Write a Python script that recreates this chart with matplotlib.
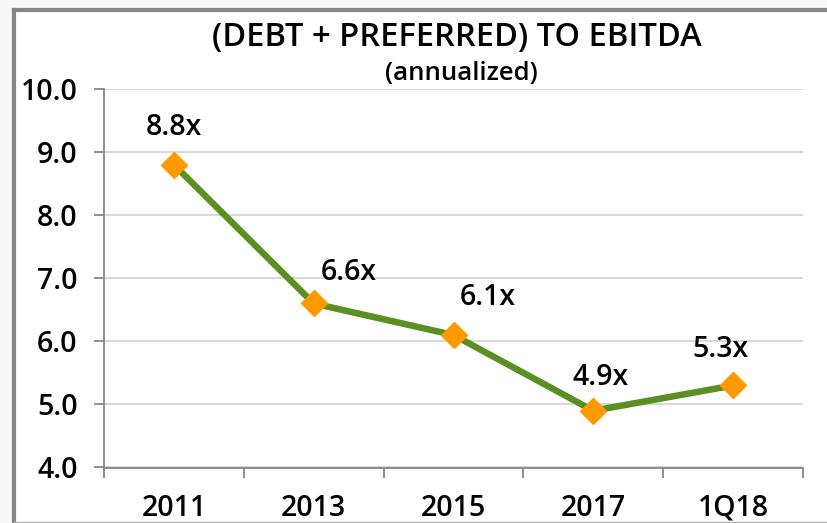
import matplotlib
matplotlib.use('Agg')
import matplotlib.pyplot as plt
from matplotlib.patches import Rectangle
from matplotlib.lines import Line2D

# chart data
periods = ['2011', '2013', '2015', '2017', '1Q18']
leverage = [8.8, 6.6, 6.1, 4.9, 5.3]
value_labels = ['8.8x', '6.6x', '6.1x', '4.9x', '5.3x']
y_ticks = [4.0, 5.0, 6.0, 7.0, 8.0, 9.0, 10.0]

# label offsets (points) relative to each marker
label_dx = [0, 25, 25, 5, -9]
label_dy = [27, 22, 27, 24, 26]

W, H = 827, 523
plt.rcParams['font.family'] = ['Open Sans', 'DejaVu Sans']
fig = plt.figure(figsize=(W / 100, H / 100), dpi=100)
fig.patch.set_facecolor('#f7f7f7')

# white panel with gray frame
fig.add_artist(Rectangle((14 / W, 0), 1, (H - 10) / H, transform=fig.transFigure,
                         facecolor='white', edgecolor='none', zorder=0))
fig.add_artist(Line2D([14 / W, 14 / W], [0, (H - 10) / H], transform=fig.transFigure,
                      color='#858585', lw=3))
fig.add_artist(Line2D([14 / W, 1], [(H - 10) / H, (H - 10) / H], transform=fig.transFigure,
                      color='#858585', lw=3))
fig.add_artist(Line2D([14 / W, 1], [1.5 / H, 1.5 / H], transform=fig.transFigure,
                      color='#b5b5b5', lw=1))

ax = fig.add_axes([104 / W, (H - 467.5) / H, 699 / W, 378.5 / H])
ax.set_facecolor('white')

x = list(range(len(periods)))
ax.plot(x, leverage, color='#5a8f22', lw=4.7, zorder=3,
        marker='D', markersize=13, markerfacecolor='#ff9900', markeredgecolor='#ff9900')

for i, (v, lab) in enumerate(zip(leverage, value_labels)):
    ax.annotate(lab, (i, v), xytext=(label_dx[i], label_dy[i]), textcoords='offset points',
                ha='center', va='center', fontsize=20.5, fontweight='semibold', color='black')

ax.set_xlim(-0.5, len(periods) - 0.5)
ax.set_ylim(4.0, 10.0)
ax.set_yticks(y_ticks)
ax.set_yticklabels([f'{t:.1f}' for t in y_ticks])
ax.set_xticks(x)
ax.set_xticklabels(periods)
ax.set_xticks([i - 0.5 for i in range(len(periods) + 1)], minor=True)
ax.tick_params(axis='x', which='major', length=0, pad=19, labelsize=20.5)
ax.tick_params(axis='x', which='minor', length=7, width=1.3, color='#868686', direction='out')
ax.tick_params(axis='y', length=7, width=1.3, color='#868686', pad=12, labelsize=20.5)
for lab in ax.get_xticklabels() + ax.get_yticklabels():
    lab.set_fontweight('semibold')

ax.grid(axis='y', color='#d9d9d9', lw=1.5)
ax.set_axisbelow(True)
for side in ['top', 'right']:
    ax.spines[side].set_visible(False)
ax.spines['left'].set_color('#868686')
ax.spines['bottom'].set_color('#868686')
ax.spines['left'].set_linewidth(1.3)
ax.spines['bottom'].set_linewidth(1.3)

fig.text(457 / W, 1 - 38 / H, '(DEBT + PREFERRED) TO EBITDA', ha='center', va='center',
         fontsize=23.5, fontweight='semibold')
fig.text(461 / W, 1 - 74 / H, '(annualized)', ha='center', va='center',
         fontsize=18.5, fontweight='semibold')

fig.savefig('out.png', dpi=100, facecolor=fig.get_facecolor())
